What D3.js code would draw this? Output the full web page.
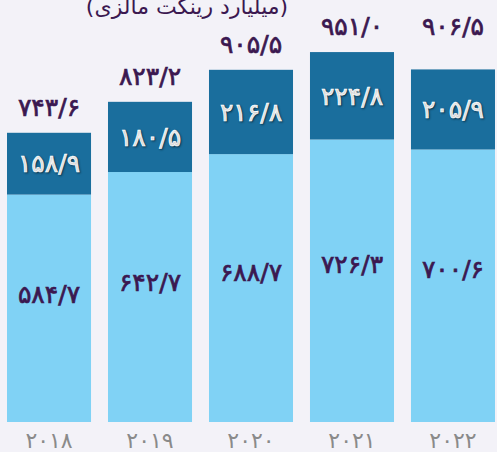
<!DOCTYPE html>
<html>
<head>
<meta charset="utf-8">
<script src="https://cdn.jsdelivr.net/npm/d3@7"></script>
<style>
  html, body { margin: 0; padding: 0; background: #f3f2f8; }
  svg { display: block; font-family: "DejaVu Sans", sans-serif; }
</style>
</head>
<body>
<div id="chart"></div>
<script>
// data
const years = [2018, 2019, 2020, 2021, 2022];
const lower = [584.7, 642.7, 688.7, 726.3, 700.6];
const upper = [158.9, 180.5, 216.8, 224.8, 205.9];
const totals = [743.6, 823.2, 905.5, 951.0, 906.5];
const unitTitle = "(میلیارد رینگت مالزی)";

const width = 497, height = 452;
const margin = { top: 0, right: 2, bottom: 30, left: 7 };

const faDigits = "۰۱۲۳۴۵۶۷۸۹";
const toFa = (s) => String(s).replace(/\d/g, (c) => faDigits[+c]);
const fmt = (v) => toFa(v.toFixed(1)).replace(".", "/");

const svg = d3.select("#chart")
  .append("svg")
  .attr("width", width)
  .attr("height", height);

const x = d3.scaleBand()
  .domain(years)
  .range([margin.left, width - margin.right])
  .paddingInner(0.168)
  .paddingOuter(0);

const y = d3.scaleLinear()
  .domain([0, 1085])
  .range([height - margin.bottom, 0]);

const rows = years.map((yr, i) => ({ yr, lo: lower[i], up: upper[i], total: totals[i] }));

const g = svg.append("g");

// light lower segment
g.selectAll(".lo")
  .data(rows)
  .join("rect")
  .attr("x", (d) => x(d.yr))
  .attr("width", x.bandwidth())
  .attr("y", (d) => y(d.lo))
  .attr("height", (d) => y(0) - y(d.lo))
  .attr("fill", "#80d2f5");

// dark upper segment
g.selectAll(".up")
  .data(rows)
  .join("rect")
  .attr("x", (d) => x(d.yr))
  .attr("width", x.bandwidth())
  .attr("y", (d) => y(d.lo + d.up))
  .attr("height", (d) => y(d.lo) - y(d.lo + d.up))
  .attr("fill", "#1a6e9d");

const cx = (d) => x(d.yr) + x.bandwidth() / 2;

// shared look of the number labels, a thin stroke makes them a bit heavier
const numText = (sel, color) => sel
  .attr("text-anchor", "middle")
  .attr("font-size", 25)
  .attr("letter-spacing", 3)
  .attr("fill", color)
  .attr("stroke", color)
  .attr("stroke-width", 0.7);

// labels inside lower segment
g.selectAll(".lolab")
  .data(rows)
  .join("text")
  .attr("x", cx)
  .attr("y", (d) => y(d.lo * 0.56))
  .attr("dy", "0.35em")
  .call(numText, "#3b1850")
  .text((d) => fmt(d.lo));

// labels inside upper segment
g.selectAll(".uplab")
  .data(rows)
  .join("text")
  .attr("x", cx)
  .attr("y", (d) => y(d.lo + d.up / 2))
  .attr("dy", "0.35em")
  .call(numText, "#ffffff")
  .style("text-shadow", "1px 1px 2px rgba(0,0,0,0.45)")
  .text((d) => fmt(d.up));

// totals above bars (last one lines up with the previous label)
g.selectAll(".tot")
  .data(rows)
  .join("text")
  .attr("x", cx)
  .attr("y", (d, i) => {
    const top = i === rows.length - 1 ? Math.min(y(d.total), y(rows[i - 1].total)) : y(d.total);
    return top - 17;
  })
  .call(numText, "#3b1850")
  .text((d) => fmt(d.total));

// year axis labels
g.selectAll(".yr")
  .data(rows)
  .join("text")
  .attr("x", cx)
  .attr("y", height - 4)
  .attr("text-anchor", "middle")
  .attr("fill", "#8a8a8a")
  .attr("font-size", 22)
  .attr("letter-spacing", 9)
  .text((d) => toFa(d.yr));

// unit title, cut by the top edge
svg.append("text")
  .attr("x", 187)
  .attr("y", 14)
  .attr("text-anchor", "middle")
  .attr("direction", "rtl")
  .attr("fill", "#3b1850")
  .attr("font-size", 22)
  .text(unitTitle);
</script>
</body>
</html>
